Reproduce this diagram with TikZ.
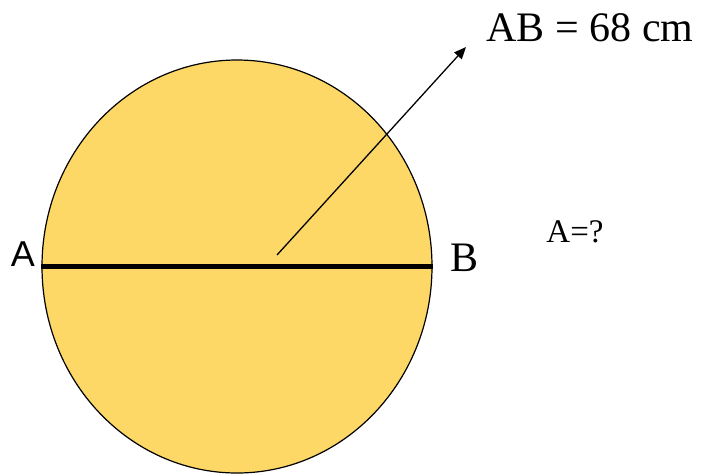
\documentclass[tikz,border=0pt]{standalone}
\usepackage{fontspec}
\setmainfont{Liberation Serif}
\newfontfamily\labsans{Liberation Sans}
\usetikzlibrary{positioning,arrows.meta,shapes.geometric}
\definecolor{discfill}{HTML}{FDD867}
\tikzset{
  disc/.style    ={ellipse, draw=black, fill=discfill, line width=1.2pt,
                   minimum width=390pt, minimum height=413pt, inner sep=0pt},
  diam/.style    ={draw=black, line width=4.5pt},
  ray/.style     ={draw=black, line width=1.3pt, -{Triangle[length=12pt,width=10pt]}},
  endlab/.style  ={inner sep=0pt, font=\fontsize{36}{40}\selectfont\labsans},
  serlab/.style  ={inner sep=0pt, font=\fontsize{42}{48}\selectfont},
  asklab/.style  ={inner sep=0pt, font=\fontsize{33}{38}\selectfont},
}
\begin{document}
\begin{tikzpicture}[x=1pt,y=-1pt]
\useasboundingbox (0,0) rectangle (701,475);
% --- the disc and its diameter ---
\node[disc] (circ) at (237,266.5) {};
\draw[diam] (circ.west) -- (circ.east);
\node[endlab] (labA) at (23,254) {A};
\node[serlab] (labB) at (465,258) {B};
% --- the radius arrow and the given length ---
\coordinate (rayS) at (277,255);
\coordinate (rayE) at (466,47);
\draw[ray] (rayS) -- (rayE);
\node[serlab] (given) at (590,28) {AB = 68 cm};
\node[asklab] (ask) at (575,232) {A=?};
\end{tikzpicture}
\end{document}
